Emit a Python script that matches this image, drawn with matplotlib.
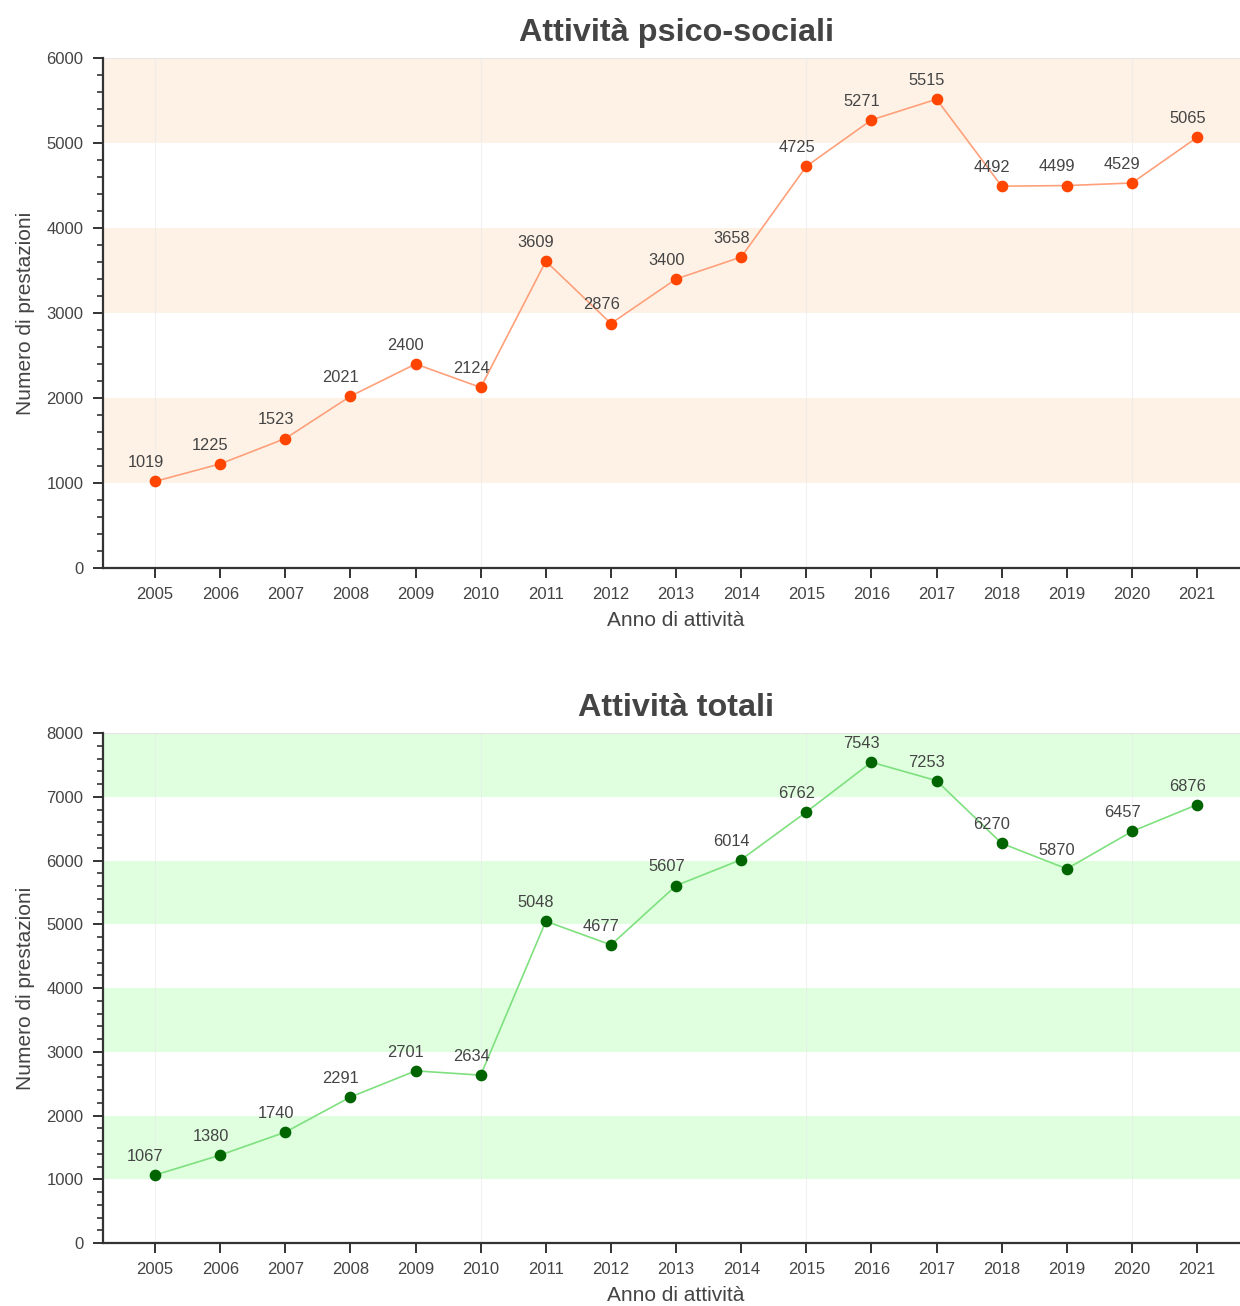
import matplotlib.pyplot as plt
from matplotlib.ticker import MultipleLocator

plt.rcParams['font.family'] = ['Liberation Sans', 'DejaVu Sans']

years = list(range(2005, 2022))
psico = [1019, 1225, 1523, 2021, 2400, 2124, 3609, 2876, 3400, 3658,
         4725, 5271, 5515, 4492, 4499, 4529, 5065]
totali = [1067, 1380, 1740, 2291, 2701, 2634, 5048, 4677, 5607, 6014,
          6762, 7543, 7253, 6270, 5870, 6457, 6876]

fig = plt.figure(figsize=(12.4, 13.06), dpi=100)
ax1 = fig.add_axes([0.0831, 0.5651, 0.9169, 0.3905])
ax2 = fig.add_axes([0.0831, 0.0482, 0.9169, 0.3905])

txt = '#444444'


def draw(ax, values, title, ymax, band, line_col, dot_col):
    for lo in range(1000, ymax, 2000):
        ax.axhspan(lo, lo + 1000, color=band, zorder=0, lw=0)
    for x in (2005, 2010, 2015, 2020):
        ax.axvline(x, color='#e8e8e8', lw=0.8, alpha=0.6, zorder=0.5)
    ax.axhline(ymax, color='#e5e5e5', lw=1.5, zorder=0.5)
    ax.plot(years, values, color=line_col, lw=1.2, zorder=2)
    ax.plot(years, values, 'o', color=dot_col, ms=7.4, zorder=3)
    for x, v in zip(years, values):
        ax.annotate(str(v), (x, v), xytext=(-7, 8), textcoords='offset points',
                    ha='center', va='bottom', fontsize=11.8, color=txt)
    ax.set_xlim(2004.2, 2021.66)
    ax.set_ylim(0, ymax)
    ax.set_xticks(years)
    ax.yaxis.set_major_locator(MultipleLocator(1000))
    ax.yaxis.set_minor_locator(MultipleLocator(200))
    for s in ('top', 'right'):
        ax.spines[s].set_visible(False)
    for s in ('left', 'bottom'):
        ax.spines[s].set_linewidth(1.6)
        ax.spines[s].set_color('#333333')
    ax.tick_params(axis='both', which='major', length=7, width=1.4,
                   color='#333333', labelsize=12, labelcolor=txt, pad=7)
    ax.tick_params(axis='y', which='minor', length=4, width=1.2, color='#333333')
    ax.set_title(title, fontsize=23.3, fontweight='bold', color=txt, pad=12, x=0.504)
    ax.set_xlabel('Anno di attività', fontsize=15, color=txt, labelpad=6)
    ax.xaxis.label.set_x(0.504)
    ax.set_ylabel('Numero di prestazioni', fontsize=15, color=txt, labelpad=8)


draw(ax1, psico, 'Attività psico-sociali', 6000, '#fef2e7', '#ffa07a', '#ff4500')
draw(ax2, totali, 'Attività totali', 8000, '#dfffdf', '#7ee07e', '#006400')

fig.savefig('out.png', dpi=100)
